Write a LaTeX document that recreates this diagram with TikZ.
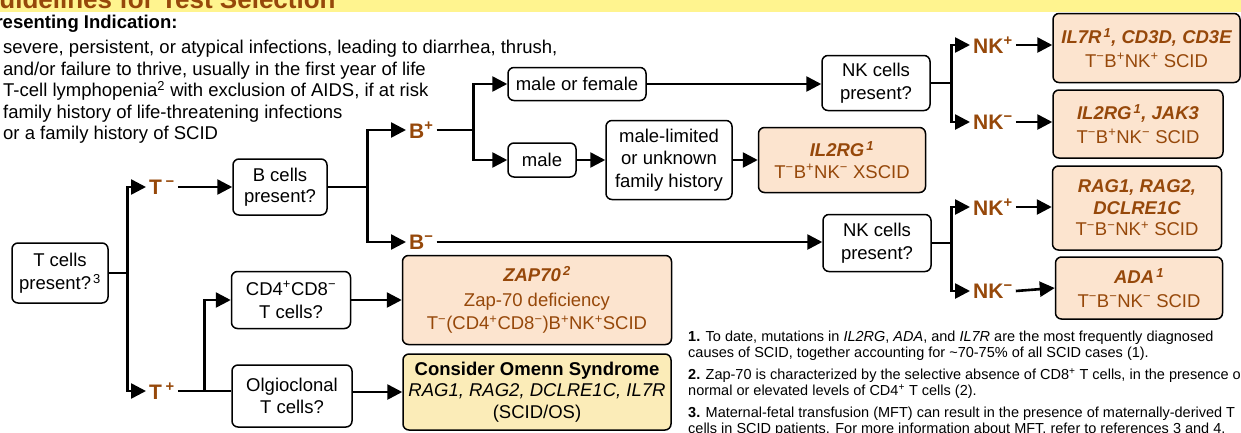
\documentclass[tikz,border=0pt]{standalone}
\usepackage{fontspec}
\setmainfont{Liberation Sans}
\usetikzlibrary{arrows.meta,calc}
\definecolor{brn}{RGB}{150,72,10}
\definecolor{peach}{RGB}{252,228,207}
\definecolor{omy}{RGB}{251,236,184}
\definecolor{ttl}{RGB}{255,244,143}
\newcommand{\nf}{\fontsize{18.5}{21.5}\selectfont}
\newcommand{\lf}{\fontsize{21}{24}\selectfont\bfseries}
\newcommand{\ftn}{\fontsize{14.5}{16}\selectfont}
\newcommand{\sps}[1]{\textsuperscript{#1}}
\begin{document}
\begin{tikzpicture}[x=1pt,y=-1pt,
 qbox/.style={draw,line width=1.5pt,rounded corners=6pt,fill=white,align=center,font=\nf,inner sep=0pt},
 rbox/.style={qbox,fill=peach,text=brn},
 lab/.style={font=\lf,text=brn,inner xsep=3pt,inner ysep=2pt,anchor=west},
 conn/.style={line width=2.6pt},
 arr/.style={conn,-{Triangle[length=15pt,width=15pt]}},
 dtxt/.style={font=\nf,anchor=base west,inner sep=0pt},
 ntxt/.style={font=\ftn,anchor=base west,inner sep=0pt}]
\useasboundingbox (0,0) rectangle (1241,432);
\clip (0,0) rectangle (1241,432);
% title bar
\fill[ttl] (0,0) rectangle (1241,12);
\node[anchor=base west,font=\fontsize{26}{30}\selectfont\bfseries,text=brn,inner sep=0pt] (title) at (-21,8) {Guidelines for Test Selection};
% presenting indication
\node[font=\nf\bfseries,anchor=base west,inner sep=0pt] (pres) at (-17,28.5) {Presenting Indication:};
\node[dtxt] (d1) at (3,53.5) {severe, persistent, or atypical infections, leading to diarrhea, thrush,};
\node[dtxt] (d2) at (3,75) {and/or failure to thrive, usually in the first year of life};
\node[dtxt] (d3) at (3,96.5) {T-cell lymphopenia\sps{2} with exclusion of AIDS, if at risk};
\node[dtxt] (d4) at (3,118) {family history of life-threatening infections};
\node[dtxt] (d5) at (3,139.5) {or a family history of SCID};
% boxes
\node[qbox,minimum width=96pt,minimum height=60pt] (tc) at (60,273) {T cells\\[2pt]present?\sps{\,3}};
\node[qbox,minimum width=94pt,minimum height=56pt] (bc) at (280,187) {B cells\\present?};
\node[qbox,minimum width=138pt,minimum height=33pt] (mf) at (577,84) {male or female};
\node[qbox,minimum width=68pt,minimum height=34pt] (male) at (542,160) {male};
\node[qbox,minimum width=126pt,minimum height=79pt] (ml) at (669,160) {male-limited\\[1pt]or unknown\\[1pt]family history};
\node[rbox,minimum width=167pt,minimum height=65pt] (xscid) at (842,160) {{\bfseries\itshape IL2RG\sps{\,1}}\\T\sps{−}B\sps{+}NK\sps{−} XSCID};
\node[qbox,minimum width=108pt,minimum height=55pt] (nk1) at (876,83) {NK cells\\[1pt]present?};
\node[qbox,minimum width=108pt,minimum height=57pt] (nk2) at (877,243) {NK cells\\[1pt]present?};
\node[rbox,minimum width=187pt,minimum height=69pt] (il7r) at (1146.5,48) {{\bfseries\itshape IL7R\sps{\,1}, CD3D, CD3E}\\[2pt]T\sps{−}B\sps{+}NK\sps{+} SCID};
\node[rbox,minimum width=170pt,minimum height=68pt] (jak) at (1138,124) {{\bfseries\itshape IL2RG\sps{\,1}, JAK3}\\[2pt]T\sps{−}B\sps{+}NK\sps{−} SCID};
\node[rbox,minimum width=169pt,minimum height=84pt] (rag) at (1137,208) {{\bfseries\itshape RAG1, RAG2,}\\{\bfseries\itshape DCLRE1C}\\T\sps{−}B\sps{−}NK\sps{+} SCID};
\node[rbox,minimum width=167pt,minimum height=62pt] (ada) at (1139,288) {{\bfseries\itshape ADA\sps{\,1}}\\[2pt]T\sps{−}B\sps{−}NK\sps{−} SCID};
\node[qbox,minimum width=119pt,minimum height=57pt] (cd4) at (291,300) {CD4\sps{+}CD8\sps{−}\\[2pt]T cells?};
\node[qbox,minimum width=120pt,minimum height=62pt] (olig) at (292,396) {Olgioclonal\\T cells?};
\node[rbox,minimum width=269pt,minimum height=89pt] (zap) at (537,300) {{\bfseries\itshape ZAP70\sps{\,2}}\\[3pt]Zap-70 deficiency\\[2pt]T\sps{−}(CD4\sps{+}CD8\sps{−})B\sps{+}NK\sps{+}SCID};
\node[qbox,fill=omy,minimum width=268pt,minimum height=76pt] (omenn) at (537,392) {{\bfseries Consider Omenn Syndrome}\\{\itshape RAG1, RAG2, DCLRE1C, IL7R}\\(SCID/OS)};
% labels
\node[lab] (tm) at (146,187) {T\,\sps{−}};
\node[lab] (tp) at (146,391) {T\,\sps{+}};
\node[lab] (bp) at (406,130) {B\sps{+}};
\node[lab] (bm) at (406,242) {B\sps{−}};
\node[lab] (nkp1) at (970,45) {NK\sps{+}};
\node[lab] (nkm1) at (970,122) {NK\sps{−}};
\node[lab] (nkp2) at (970,207) {NK\sps{+}};
\node[lab] (nkm2) at (970,291) {NK\sps{−}};
% connectors
\draw[conn] (tc.east) -- ++(19,0) coordinate (f1);
\draw[arr] (f1) |- (tm.west);
\draw[arr] (f1) |- (tp.west);
\draw[arr] (tm.east) -- (tm.east -| bc.west);
\draw[conn] (bc.east) -- ++(40,0) coordinate (f2);
\draw[arr] (f2) |- (bp.west);
\draw[arr] (f2) |- (bm.west);
\draw[conn] (bp.east) -- ++(37,0) coordinate (f3);
\draw[arr] (f3) |- (mf.west);
\draw[arr] (f3) |- (male.west);
\draw[arr] (male.east) -- (ml.west);
\draw[arr] (ml.east) -- (xscid.west);
\draw[arr] (mf.east) -- (mf.east -| nk1.west);
\draw[conn] (nk1.east) -- ++(21,0) coordinate (f4);
\draw[arr] (f4) |- (nkp1.west);
\draw[arr] (f4) |- (nkm1.west);
\draw[arr] (nkp1.east) -- (nkp1.east -| il7r.west);
\draw[arr] (nkm1.east) -- (nkm1.east -| jak.west);
\draw[arr] (bm.east) -- (bm.east -| nk2.west);
\draw[conn] (nk2.east) -- ++(20,0) coordinate (f5);
\draw[arr] (f5) |- (nkp2.west);
\draw[arr] (f5) |- (nkm2.west);
\draw[arr] (nkp2.east) -- (nkp2.east -| rag.west);
\draw[arr] (nkm2.east) -- (ada.west);
\draw[conn] (tp.east) -- (tp.east -| olig.west);
\coordinate (f6) at ($(tp.east)!0.5!(tp.east -| olig.west)$);
\draw[arr] (f6) |- (cd4.west);
\draw[arr] (cd4.east) -- (zap.west);
\draw[arr] (olig.east |- omenn.west) -- (omenn.west);
% notes
\node[ntxt] (n1) at (688,341.5) {\textbf{1.} To date, mutations in \textit{IL2RG}, \textit{ADA}, and \textit{IL7R} are the most frequently diagnosed};
\node[ntxt] (n2) at (688,357.5) {causes of SCID, together accounting for \textasciitilde70-75\% of all SCID cases (1).};
\node[ntxt] (n3) at (688,379.5) {\textbf{2.} Zap-70 is characterized by the selective absence of CD8\sps{+} T cells, in the presence of};
\node[ntxt] (n4) at (688,395.5) {normal or elevated levels of CD4\sps{+} T cells (2).};
\node[ntxt] (n5) at (688,417.5) {\textbf{3.} Maternal-fetal transfusion (MFT) can result in the presence of maternally-derived T};
\node[ntxt] (n6) at (688,433.5) {cells in SCID patients.  For more information about MFT, refer to references 3 and 4.};
\end{tikzpicture}
\end{document}
